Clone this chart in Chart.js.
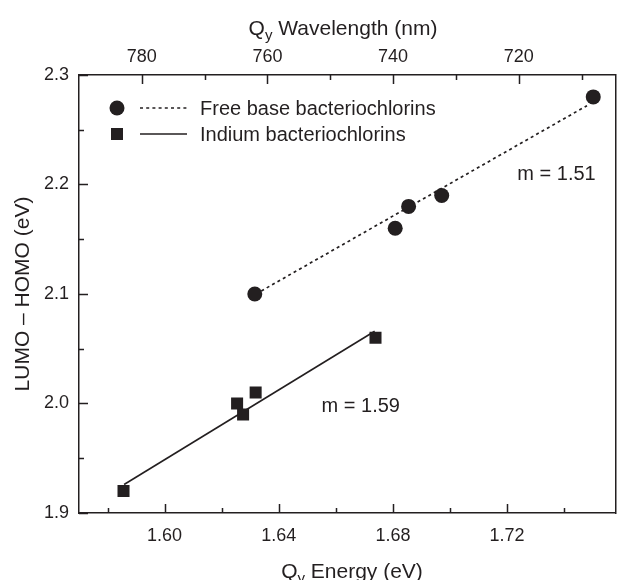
<!DOCTYPE html>
<html>
<head>
<meta charset="utf-8">
<script src="https://cdn.jsdelivr.net/npm/chart.js@4.4.1/dist/chart.umd.min.js"></script>
<style>
  html, body { margin: 0; padding: 0; background: #fff; }
  #wrap { width: 624px; height: 580px; }
</style>
</head>
<body>
<div id="wrap"><canvas id="chart" width="624" height="580"></canvas></div>
<script>
// measured values (eV)
const freeBaseEnergy = [1.6316, 1.6808, 1.6855, 1.6971, 1.7502];
const freeBaseGap = [2.1, 2.16, 2.18, 2.19, 2.28];
const indiumEnergy = [1.5856, 1.6254, 1.6275, 1.6319, 1.6739];
const indiumGap = [1.92, 2.0, 1.99, 2.01, 2.06];

// fitted lines, end points
const freeFitEnergy = [1.632, 1.748];
const freeFitGap = [2.1, 2.272];
const indiumFitEnergy = [1.5858, 1.6736];
const indiumFitGap = [1.926, 2.066];

const legendLabels = ["Free base bacteriochlorins", "Indium bacteriochlorins"];
const slopeLabels = ["m = 1.51", "m = 1.59"];
const slopeEnergy = [1.7236, 1.655];
const slopeGap = [2.2087, 1.9977];

const energyTicks = [1.6, 1.64, 1.68, 1.72];
const energyMinor = [1.58, 1.62, 1.66, 1.7, 1.74];
const gapTicks = [1.9, 2.0, 2.1, 2.2, 2.3];
const gapMinor = [1.95, 2.05, 2.15, 2.25];
const waveTicks = [780, 760, 740, 720];
const waveMinor = [770, 750, 730, 710];

const ink = "#231f20";
const font = "'Liberation Sans', Arial, Helvetica, sans-serif";
const dotted = [3, 3.2];

function pts(xs, ys) {
  return xs.map((x, i) => ({ x: x, y: ys[i] }));
}

// inward tick marks on bottom, left and top
const tickMarks = {
  id: "tickMarks",
  afterDraw(chart) {
    let ctx = chart.ctx;
    let a = chart.chartArea;
    let sx = chart.scales.x;
    let sy = chart.scales.y;
    let st = chart.scales.x2;
    ctx.save();
    ctx.strokeStyle = ink;
    ctx.lineWidth = 1.5;
    ctx.beginPath();
    const vert = (scale, vals, y0, dir, len) => {
      vals.forEach((v) => {
        let px = Math.round(scale.getPixelForValue(v)) + 0.5;
        ctx.moveTo(px, y0);
        ctx.lineTo(px, y0 + dir * len);
      });
    };
    vert(sx, energyTicks, a.bottom, -1, 9);
    vert(sx, energyMinor, a.bottom, -1, 5);
    vert(st, waveTicks, a.top, 1, 9);
    vert(st, waveMinor, a.top, 1, 5);
    gapTicks.forEach((v) => {
      let py = Math.round(sy.getPixelForValue(v)) + 0.5;
      ctx.moveTo(a.left, py);
      ctx.lineTo(a.left + 9, py);
    });
    gapMinor.forEach((v) => {
      let py = Math.round(sy.getPixelForValue(v)) + 0.5;
      ctx.moveTo(a.left, py);
      ctx.lineTo(a.left + 5, py);
    });
    ctx.stroke();
    ctx.restore();
  },
};

// axis titles with a subscript y, legend and slope notes
const decorations = {
  id: "decorations",
  afterDraw(chart) {
    let ctx = chart.ctx;
    let a = chart.chartArea;
    ctx.save();
    ctx.fillStyle = ink;

    const subTitle = (rest, cx, base) => {
      ctx.font = "21px " + font;
      let wQ = ctx.measureText("Q").width;
      let wRest = ctx.measureText(rest).width;
      ctx.font = "15px " + font;
      let wy = ctx.measureText("y").width;
      let x0 = cx - (wQ + wy + wRest) / 2;
      ctx.textAlign = "left";
      ctx.textBaseline = "alphabetic";
      ctx.font = "21px " + font;
      ctx.fillText("Q", x0, base);
      ctx.font = "15px " + font;
      ctx.fillText("y", x0 + wQ, base + 5);
      ctx.font = "21px " + font;
      ctx.fillText(rest, x0 + wQ + wy, base);
    };
    subTitle(" Wavelength (nm)", 343, 35);
    subTitle(" Energy (eV)", 352, 578);

    ctx.save();
    ctx.translate(23, (a.top + a.bottom) / 2);
    ctx.rotate(-Math.PI / 2);
    ctx.font = "21px " + font;
    ctx.textAlign = "center";
    ctx.textBaseline = "middle";
    ctx.fillText("LUMO \u2013 HOMO (eV)", 0, 0);
    ctx.restore();

    // legend
    let lx = a.left + 38;
    let ly1 = a.top + 33;
    let ly2 = a.top + 59;
    ctx.beginPath();
    ctx.arc(lx, ly1, 7.5, 0, Math.PI * 2);
    ctx.fill();
    ctx.fillRect(lx - 6, ly2 - 6, 12, 12);
    ctx.strokeStyle = ink;
    ctx.lineWidth = 1.7;
    ctx.setLineDash(dotted);
    ctx.beginPath();
    ctx.moveTo(lx + 23, ly1);
    ctx.lineTo(lx + 70, ly1);
    ctx.stroke();
    ctx.setLineDash([]);
    ctx.beginPath();
    ctx.moveTo(lx + 23, ly2);
    ctx.lineTo(lx + 70, ly2);
    ctx.stroke();
    ctx.font = "20px " + font;
    ctx.textAlign = "left";
    ctx.textBaseline = "middle";
    ctx.fillText(legendLabels[0], lx + 83, ly1 + 1);
    ctx.fillText(legendLabels[1], lx + 83, ly2 + 1);

    // slope notes
    let sx = chart.scales.x;
    let sy = chart.scales.y;
    slopeLabels.forEach((t, i) => {
      ctx.fillText(t, sx.getPixelForValue(slopeEnergy[i]), sy.getPixelForValue(slopeGap[i]));
    });
    ctx.restore();
  },
};

const tickFont = { family: font, size: 18 };

new Chart(document.getElementById("chart"), {
  type: "scatter",
  data: {
    datasets: [
      {
        label: legendLabels[0],
        data: pts(freeBaseEnergy, freeBaseGap),
        pointStyle: "circle",
        pointRadius: 7.5,
        backgroundColor: ink,
        borderWidth: 0,
      },
      {
        label: legendLabels[1],
        data: pts(indiumEnergy, indiumGap),
        pointStyle: "rect",
        pointRadius: 8.5,
        backgroundColor: ink,
        borderWidth: 0,
      },
      {
        label: "fit free base",
        data: pts(freeFitEnergy, freeFitGap),
        showLine: true,
        pointRadius: 0,
        borderColor: ink,
        borderWidth: 1.7,
        borderDash: dotted,
      },
      {
        label: "fit indium",
        data: pts(indiumFitEnergy, indiumFitGap),
        showLine: true,
        pointRadius: 0,
        borderColor: ink,
        borderWidth: 1.6,
      },
    ],
  },
  options: {
    responsive: false,
    devicePixelRatio: 1,
    animation: false,
    layout: { padding: 0 },
    plugins: {
      legend: { display: false },
      tooltip: { enabled: false },
    },
    scales: {
      x: {
        type: "linear",
        position: "bottom",
        min: 1.57,
        max: 1.758,
        afterBuildTicks: (s) => {
          s.ticks = energyTicks.map((v) => ({ value: v }));
        },
        afterFit: (s) => {
          s.height = 67;
        },
        ticks: {
          font: tickFont,
          color: ink,
          padding: 12,
          maxRotation: 0,
          callback: (v) => v.toFixed(2),
        },
        grid: { display: false, drawTicks: false },
        border: { display: true, color: ink, width: 1.5 },
      },
      x2: {
        type: "linear",
        position: "top",
        reverse: true,
        min: 704.6,
        max: 790,
        afterBuildTicks: (s) => {
          s.ticks = waveTicks.map((v) => ({ value: v }));
        },
        afterFit: (s) => {
          s.height = 75;
        },
        ticks: {
          font: tickFont,
          color: ink,
          padding: 7,
          maxRotation: 0,
          callback: (v) => String(v),
        },
        grid: { display: false, drawTicks: false },
        border: { display: true, color: ink, width: 1.5 },
      },
      y: {
        type: "linear",
        position: "left",
        min: 1.9,
        max: 2.3,
        afterBuildTicks: (s) => {
          s.ticks = gapTicks.map((v) => ({ value: v }));
        },
        afterFit: (s) => {
          s.width = 79;
        },
        ticks: {
          font: tickFont,
          color: ink,
          padding: 10,
          callback: (v) => v.toFixed(1),
        },
        grid: { display: false, drawTicks: false },
        border: { display: true, color: ink, width: 1.5 },
      },
      y2: {
        type: "linear",
        position: "right",
        ticks: { display: false },
        afterFit: (s) => {
          s.width = 2;
        },
        grid: { display: false, drawTicks: false },
        border: { display: true, color: ink, width: 1.5 },
      },
    },
  },
  plugins: [tickMarks, decorations],
});
</script>
</body>
</html>
